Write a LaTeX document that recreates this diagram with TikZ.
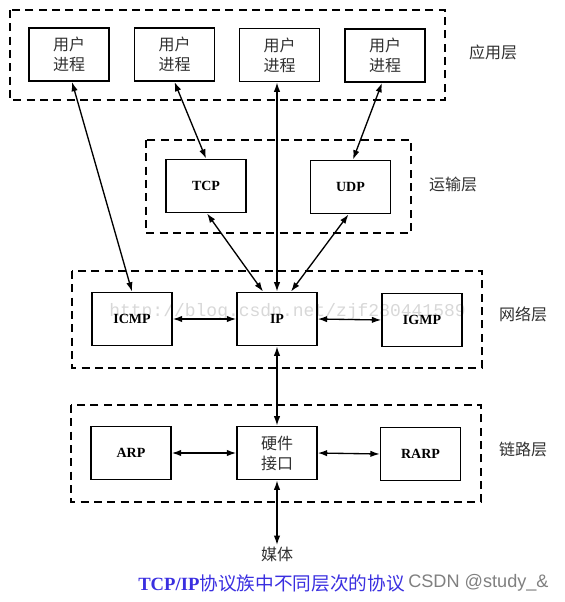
\documentclass[tikz,border=0pt]{standalone}
\usepackage{fontspec}
\setmainfont{Liberation Serif}
\newfontfamily\cjk{Noto Sans CJK SC}
\newfontfamily\sansf{Liberation Sans}
\newfontfamily\monof{Liberation Mono}
\usetikzlibrary{arrows.meta,calc}
\definecolor{txt}{HTML}{303030}
\definecolor{capblue}{HTML}{3A2FE0}
\definecolor{wm}{HTML}{D8D8D8}
\definecolor{csdn}{HTML}{808080}
\begin{document}
\begin{tikzpicture}[x=0.75pt,y=-0.75pt,
 box/.style={draw,line width=1.15pt,minimum width=60pt,minimum height=40pt,inner sep=0pt,align=center},
 cbox/.style={box,font=\cjk\fontsize{12}{15}\selectfont,text=txt},
 lbox/.style={box,font=\fontsize{10.5}{12}\selectfont\bfseries},
 layer/.style={draw,line width=1.1pt,dash pattern=on 6pt off 4pt},
 lab/.style={font=\cjk\fontsize{12}{14}\selectfont,text=txt,inner sep=1pt},
 conn/.style={{Latex[length=7pt,width=4.8pt]}-{Latex[length=7pt,width=4.8pt]},line width=1pt},
]
\useasboundingbox (0,0) rectangle (564,602);

% watermark
\node[font=\monof\fontsize{13.5}{14}\selectfont,text=wm,inner sep=0pt] (wmark) at (287.5,312) {http://blog.csdn.net/zjf280441589};

% layers
\draw[layer] (10,10) rectangle (445,100);
\draw[layer] (146,140) rectangle (411,233);
\draw[layer] (72,271) rectangle (482,368);
\draw[layer] (71,405) rectangle (481,502);

% application
\node[cbox] (u1) at (69,54.5) {用户\\进程};
\node[cbox] (u2) at (174.5,54.5) {用户\\进程};
\node[cbox] (u3) at (279.5,55) {用户\\进程};
\node[cbox] (u4) at (385,55.5) {用户\\进程};
% transport
\node[lbox] (tcp) at (206,186) {TCP};
\node[lbox] (udp) at (350.5,187) {UDP};
% network
\node[lbox] (icmp) at (132,319) {ICMP};
\node[lbox] (ip) at (277,319) {IP};
\node[lbox] (igmp) at (422,320) {IGMP};
% link
\node[lbox] (arp) at (131,453) {ARP};
\node[cbox] (hw) at (277,453) {硬件\\接口};
\node[lbox] (rarp) at (420.5,454) {RARP};

% layer labels
\node[lab] (lapp) at (493,52) {应用层};
\node[lab] (ltr) at (453,184) {运输层};
\node[lab] (lnet) at (523,314) {网络层};
\node[lab] (llink) at (523,449) {链路层};

% media
\node[lab,anchor=north] (media) at (277,545) {媒体};

% connectors
\draw[conn] ($(u1.south)+(3,0)$) -- (icmp.north);
\draw[conn] (u2.south) -- (tcp.north);
\draw[conn] (ip.north |- u3.south) -- (ip.north);
\draw[conn] ($(u4.south)+(-3,0)$) -- ($(udp.north)+(2.5,0)$);
\draw[conn] ($(tcp.south)+(1,0)$) -- ($(ip.north)+(-14,0)$);
\draw[conn] ($(udp.south)+(-2,0)$) -- ($(ip.north)+(14,0)$);
\draw[conn] (icmp.east) -- (ip.west);
\draw[conn] (ip.east) -- (igmp.west);
\draw[conn] (ip.south) -- (hw.north);
\draw[conn] (arp.east) -- (hw.west);
\draw[conn] (hw.east) -- (rarp.west);
\draw[conn] (hw.south) -- (media.north);

% caption
\node[anchor=west,inner sep=0pt,text=capblue,font=\fontsize{14}{16}\selectfont] (cap) at (138,583) {\textbf{TCP/IP}{\cjk 协议族中不同层次的协议}};
\node[anchor=west,inner sep=0pt,text=csdn,font=\sansf\fontsize{13.6}{16}\selectfont] (mark) at (408,583) {CSDN @study\_\&};
\end{tikzpicture}
\end{document}
